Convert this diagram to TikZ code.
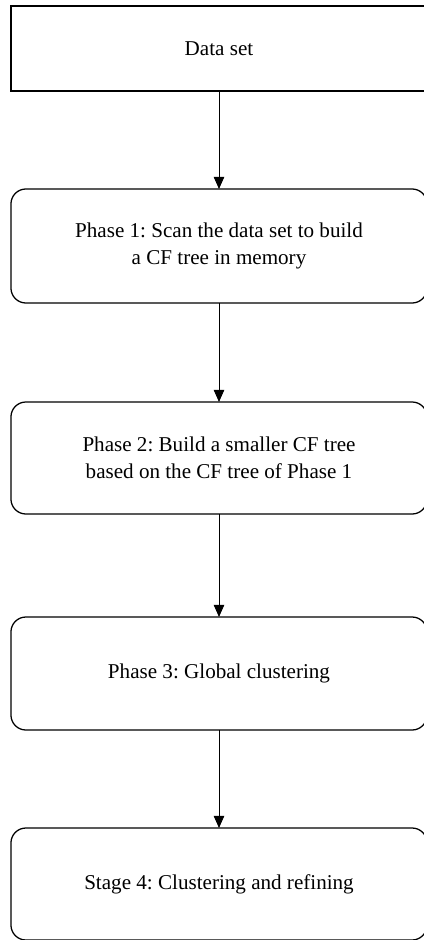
\documentclass[tikz,border=0pt]{standalone}
\usepackage{fontspec}
\setmainfont{Liberation Serif}
\usetikzlibrary{arrows.meta}
\frenchspacing
\tikzset{
    phasebox/.style={draw, line width=0.9pt, rounded corners=0.375cm, minimum width=10.4cm,
        inner sep=0pt, outer sep=0pt, align=center,
        font=\fontsize{15}{19.5}\selectfont},
    flow/.style={line width=0.7pt, -{Triangle[length=0.3cm, width=0.26cm]}}
}
\begin{document}
\begin{tikzpicture}[x=0.025cm, y=-0.025cm]
        \useasboundingbox (0,0) rectangle (423,940);
        \node[phasebox, rounded corners=0pt, minimum height=2.125cm] (data) at (219,48.5) {Data set};
        \foreach \y/\n/\l/\h in {246/p1/{Phase 1: Scan the data set to build\\a CF tree in memory}/2.85,
                                 458/p2/{Phase 2: Build a smaller CF tree\\based on the CF tree of Phase 1}/2.8,
                                 673.5/p3/{Phase 3: Global clustering}/2.825,
                                 884/s4/{Stage 4: Clustering and refining}/2.8}{
            \node[phasebox, minimum height=\h cm] (\n) at (219,\y) {\l};
        }
        \foreach \m/\n in {data/p1,p1/p2,p2/p3,p3/s4}{
            \draw[flow] (\m) -- (\n);
        }
    \end{tikzpicture}
\end{document}
